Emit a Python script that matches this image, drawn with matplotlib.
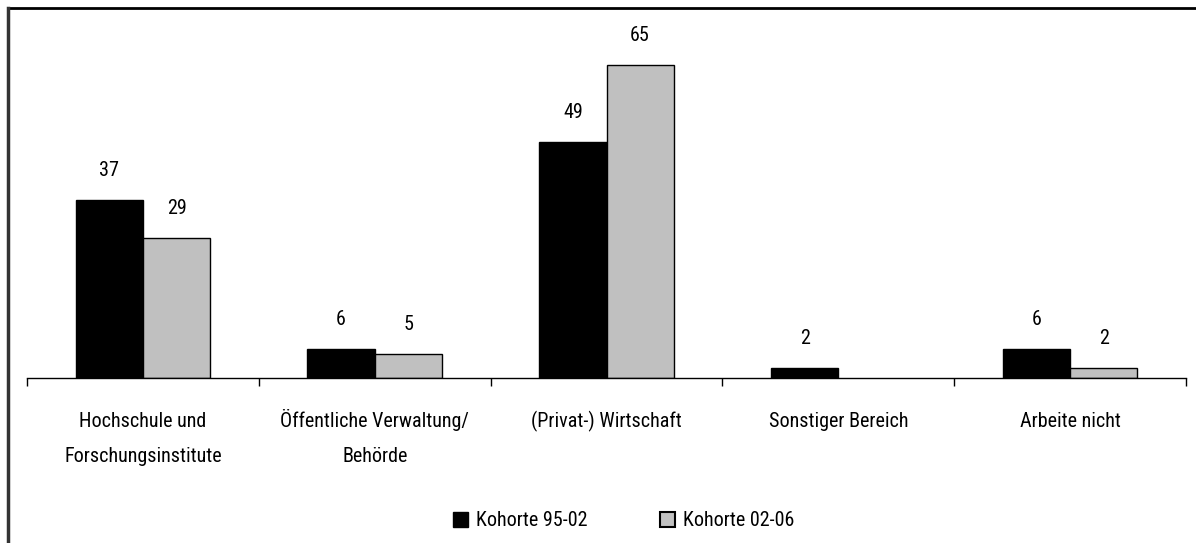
import matplotlib
matplotlib.use("Agg")
import matplotlib.pyplot as plt
from matplotlib.lines import Line2D
from matplotlib.patches import Patch
from matplotlib import transforms
import numpy as np

categories = ["Hochschule und\nForschungsinstitute", "Öffentliche Verwaltung/\nBehörde",
              "(Privat-) Wirtschaft", "Sonstiger Bereich", "Arbeite nicht"]
series_names = ["Kohorte 95-02", "Kohorte 02-06"]
values_9502 = [37, 6, 49, 2, 6]
values_0206 = [29, 5, 65, None, 2]

plt.rcParams["font.family"] = ["Roboto Condensed", "Liberation Sans", "DejaVu Sans"]

W, H = 1196, 543
fig = plt.figure(figsize=(W / 100, H / 100), dpi=100)
AX_H = 337
ax = fig.add_axes([27 / W, (H - 378) / H, 1159 / W, AX_H / H])

x = np.arange(len(categories))
w = 0.29
colors = ["#000000", "#C0C0C0"]
FS = 14.5
for k, (vals, col) in enumerate(zip([values_9502, values_0206], colors)):
    for i, v in enumerate(vals):
        if v is None:
            continue
        xpos = x[i] + (k - 0.5) * w
        ax.bar(xpos, v, width=w, color=col, edgecolor="black", linewidth=1.0)
        ax.text(xpos, v + 5.0, str(v), ha="center", va="baseline", fontsize=FS)

ax.set_xlim(-0.5, len(categories) - 0.5)
ax.set_ylim(0, 70)
for s in ["top", "right", "left"]:
    ax.spines[s].set_visible(False)
ax.spines["bottom"].set_linewidth(1.0)
ax.set_yticks([])
ax.set_xticks(np.arange(-0.5, len(categories), 1.0))
ax.set_xticklabels([])
ax.tick_params(axis="x", direction="out", length=6, width=1.0)
trans = transforms.blended_transform_factory(ax.transData, ax.transAxes)
for i, c in enumerate(categories):
    for j, line in enumerate(c.split("\n")):
        ax.text(x[i], -(49 + 35 * j) / AX_H, line, transform=trans, ha="center", va="baseline", fontsize=FS)

handles = [Patch(facecolor=colors[0], edgecolor="black"),
           Patch(facecolor=colors[1], edgecolor="black", linewidth=1.5)]
fig.legend(handles, series_names, loc="center", bbox_to_anchor=(624 / W, 1 - 521 / H),
           ncol=2, frameon=False, fontsize=FS, handlelength=0.75, handleheight=0.75,
           columnspacing=3.6, handletextpad=0.4)

fig.add_artist(Line2D([7.5 / W, 1.0], [1 - 7.5 / H, 1 - 7.5 / H], color="black", lw=2))
fig.add_artist(Line2D([7.5 / W, 7.5 / W], [0, 1 - 7.5 / H], color="#333333", lw=2.5))

fig.savefig("out.png", dpi=100)
